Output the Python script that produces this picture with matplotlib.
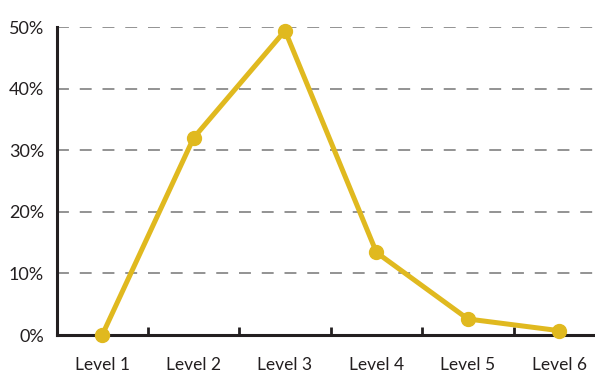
import matplotlib
matplotlib.use('Agg')
import matplotlib.pyplot as plt

levels = ['Level 1', 'Level 2', 'Level 3', 'Level 4', 'Level 5', 'Level 6']
shares = [0.0, 32.0, 49.4, 13.4, 2.6, 0.7]
y_ticks = [0, 10, 20, 30, 40, 50]

plt.rcParams['font.family'] = ['Lato', 'DejaVu Sans']
text_color = '#231f20'
line_color = '#e0b91f'

fig = plt.figure(figsize=(5.95, 3.72), dpi=100)
# axes runs past the right edge like the original
ax = fig.add_axes([56.5 / 595, 37 / 372, 548.5 / 595, 308 / 372])

x = list(range(len(levels)))
ax.plot(x, shares, color=line_color, linewidth=3.6, marker='o',
        markersize=10, solid_capstyle='round', zorder=3, clip_on=False)

ax.set_xlim(-0.5, len(levels) - 0.5)
ax.set_ylim(0, 50)

ax.set_yticks(y_ticks)
ax.set_yticklabels([str(v) + '%' for v in y_ticks])
for v in y_ticks[1:]:
    ax.axhline(v, color='#8a8a8a', linewidth=1.3, dashes=(6.6, 6.0), zorder=1)

ax.set_xticks([i + 0.5 for i in x[:-1]], minor=False)
ax.set_xticklabels([])
ax.set_xticks(x, minor=True)
ax.set_xticklabels(levels, minor=True)

ax.tick_params(axis='x', which='major', direction='in', length=6, width=2,
               color=text_color)
ax.tick_params(axis='x', which='minor', length=0, pad=16, labelsize=12.5,
               labelcolor=text_color)
ax.tick_params(axis='y', length=0, pad=9, labelsize=13, labelcolor=text_color)

for side in ['top', 'right']:
    ax.spines[side].set_visible(False)
for side in ['left', 'bottom']:
    ax.spines[side].set_linewidth(2.2)
    ax.spines[side].set_color(text_color)

fig.savefig('out.png', dpi=100)
